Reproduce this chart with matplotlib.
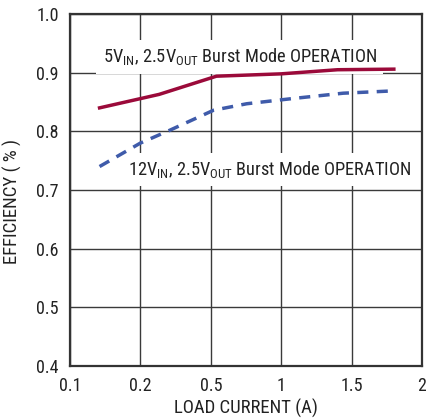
import numpy as np
import matplotlib
matplotlib.use("Agg")
import matplotlib.pyplot as plt

FONT = 'Roboto Condensed'
plt.rcParams['font.family'] = [FONT, 'DejaVu Sans']
plt.rcParams['mathtext.fontset'] = 'custom'
plt.rcParams['mathtext.rm'] = FONT
plt.rcParams['mathtext.it'] = FONT
plt.rcParams['mathtext.bf'] = FONT

x_ticks = [0.1, 0.2, 0.5, 1, 1.5, 2]
x_tick_labels = ["0.1", "0.2", "0.5", "1", "1.5", "2"]
y_ticks = [0.4, 0.5, 0.6, 0.7, 0.8, 0.9, 1.0]
y_tick_labels = ["0.4", "0.5", "0.6", "0.7", "0.8", "0.9", "1.0"]

load_5v = [0.142, 0.28, 0.54, 1.0, 1.4, 1.8]
eff_5v = [0.840, 0.863, 0.894, 0.898, 0.905, 0.906]

load_12v = [0.142, 0.2, 0.326, 0.52, 0.755, 1.085, 1.44, 1.8]
eff_12v = [0.740, 0.780, 0.802, 0.836, 0.847, 0.856, 0.865, 0.869]

label_5v = r"5V$_{\mathrm{IN}}$, 2.5V$_{\mathrm{OUT}}$ Burst Mode OPERATION"
label_12v = r"12V$_{\mathrm{IN}}$, 2.5V$_{\mathrm{OUT}}$ Burst Mode OPERATION"

idx = np.arange(len(x_ticks), dtype=float)
fwd = lambda v: np.interp(v, x_ticks, idx)
inv = lambda v: np.interp(v, idx, x_ticks)

fig = plt.figure(figsize=(4.27, 4.19), dpi=100)
ax = fig.add_axes([70/427, 1 - 366/419, (422-70)/427, (366-14)/419])
ax.set_xscale('function', functions=(fwd, inv))
ax.set_xlim(0.1, 2)
ax.set_ylim(0.4, 1.0)
ax.set_xticks(x_ticks)
ax.set_xticklabels(x_tick_labels)
ax.set_yticks(y_ticks)
ax.set_yticklabels(y_tick_labels)
ax.xaxis.set_minor_locator(matplotlib.ticker.NullLocator())
ax.grid(True, color='#3a3a3a', linewidth=1.0)
ax.set_axisbelow(True)
for s in ax.spines.values():
    s.set_linewidth(1.6)
    s.set_color('#333333')
ax.tick_params(length=0, labelsize=13, colors='#222222', pad=8)

ax.plot(load_5v, eff_5v, color='#9B0A3A', linewidth=2.5, zorder=3)
ax.plot(load_12v, eff_12v, color='#3F5BAA', linewidth=2.5, linestyle=(0, (3.2, 2.4)), zorder=3)

ax.text(0.1462, 0.918, label_5v, fontsize=13.2, color='#222222', va='baseline',
        ha='left', zorder=2,
        bbox=dict(facecolor='white', edgecolor='none', boxstyle='square,pad=0.35'))
ax.text(0.1820, 0.7256, label_12v, fontsize=13.2, color='#222222', va='baseline',
        ha='left', zorder=2,
        bbox=dict(facecolor='white', edgecolor='none', boxstyle='square,pad=0.35'))

ax.set_xlabel("LOAD CURRENT (A)", fontsize=13.5, color='#222222')
ax.set_ylabel("EFFICIENCY ( % )", fontsize=13.5, color='#222222')
ax.xaxis.set_label_coords(0.5, -0.094)
ax.yaxis.set_label_coords(-0.135, 0.466)

fig.savefig("out.png", dpi=100)
